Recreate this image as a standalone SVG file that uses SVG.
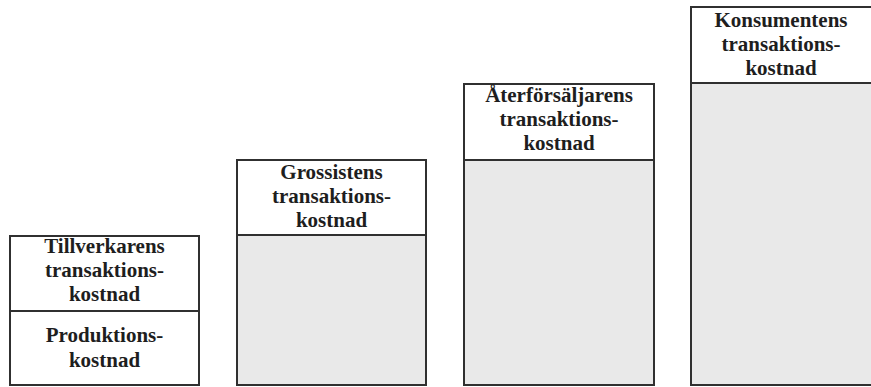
<svg xmlns="http://www.w3.org/2000/svg" width="871" height="387" viewBox="0 0 871 387">
  <style>
    .box { fill: #ffffff; stroke: #303030; stroke-width: 2; }
    .cost { fill: #e9e9e9; stroke: #303030; stroke-width: 2; }
    .lbl { font-family: "Liberation Serif", "Times New Roman", serif; font-weight: bold; font-size: 21px; fill: #1e1e1e; text-anchor: middle; }
  </style>
  <rect width="871" height="387" fill="#ffffff"/>

  <!-- Manufacturer: transaction cost on top of production cost -->
  <g id="tillverkare">
    <rect class="box" x="10" y="236" width="189" height="75"/>
    <rect class="box" x="10" y="311" width="189" height="74"/>
    <text class="lbl" x="104.5" y="253">Tillverkarens</text>
    <text class="lbl" x="104.5" y="277">transaktions-</text>
    <text class="lbl" x="104.5" y="301">kostnad</text>
    <text class="lbl" x="104.5" y="342">Produktions-</text>
    <text class="lbl" x="104.5" y="367">kostnad</text>
  </g>

  <!-- Wholesaler -->
  <g id="grossist">
    <rect class="cost" x="237" y="235" width="189" height="150"/>
    <rect class="box" x="237" y="160" width="189" height="75"/>
    <text class="lbl" x="331.5" y="179">Grossistens</text>
    <text class="lbl" x="331.5" y="203">transaktions-</text>
    <text class="lbl" x="331.5" y="227">kostnad</text>
  </g>

  <!-- Retailer -->
  <g id="aterforsaljare">
    <rect class="cost" x="464" y="160" width="190" height="225"/>
    <rect class="box" x="464" y="84" width="190" height="76"/>
    <text class="lbl" x="559" y="102">Återförsäljarens</text>
    <text class="lbl" x="559" y="126">transaktions-</text>
    <text class="lbl" x="559" y="150">kostnad</text>
  </g>

  <!-- Consumer -->
  <g id="konsument">
    <rect class="cost" x="691" y="83" width="200" height="302"/>
    <rect class="box" x="691" y="7" width="200" height="76"/>
    <text class="lbl" x="781" y="27">Konsumentens</text>
    <text class="lbl" x="781" y="51">transaktions-</text>
    <text class="lbl" x="781" y="75">kostnad</text>
  </g>
</svg>
